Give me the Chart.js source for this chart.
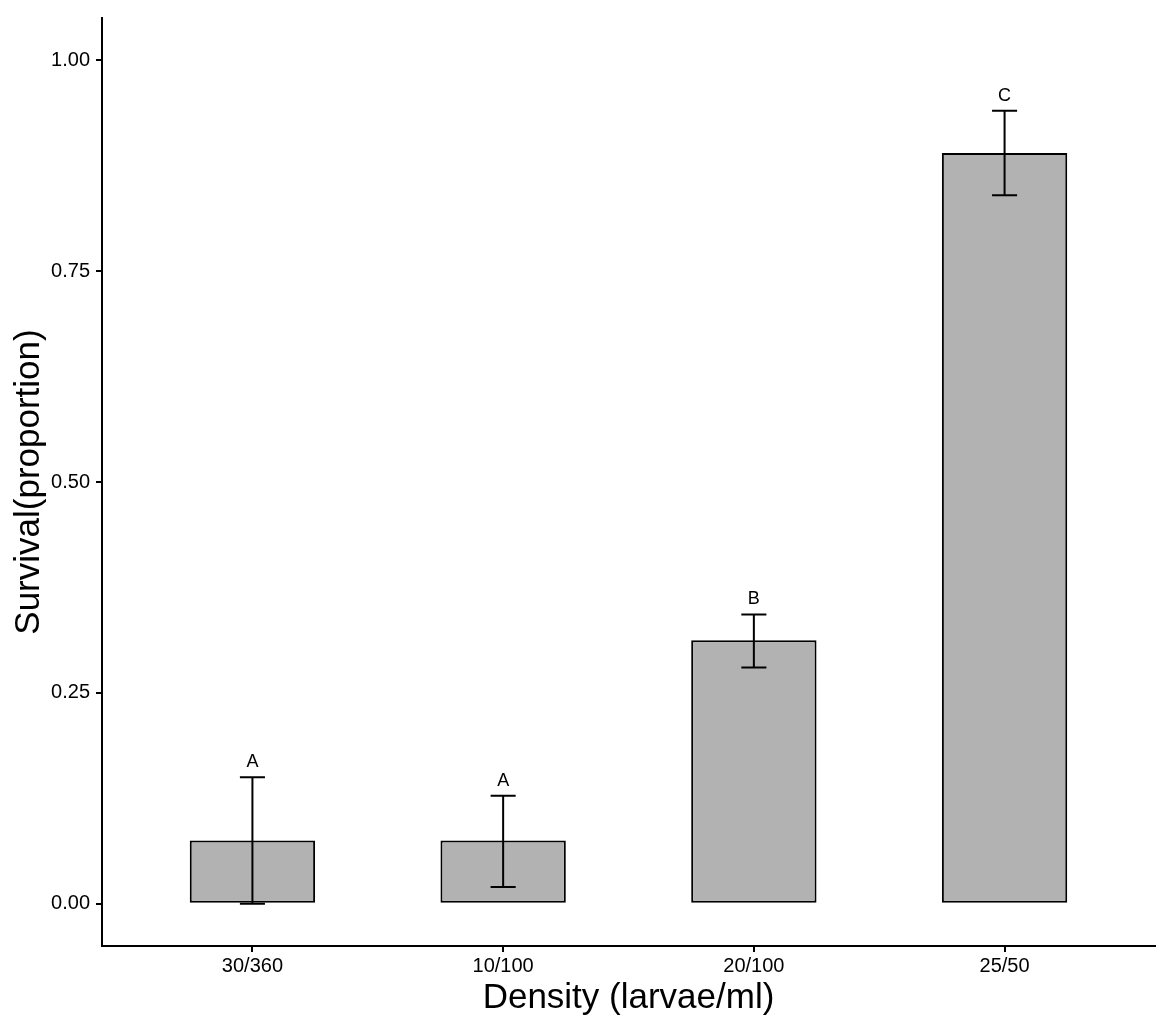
<!DOCTYPE html>
<html lang="en">
<head>
  <meta charset="UTF-8">
  <title>Survival by density</title>
  <script src="https://cdn.jsdelivr.net/npm/chart.js"></script>
  <style>
    html, body { margin: 0; padding: 0; background: #fff; }
    .chart-box { width: 1170px; height: 1023px; position: relative; }
  </style>
</head>
<body>
  <div class="chart-box">
    <canvas id="barChart"></canvas>
  </div>

  <script>
    // values
    const categories = ['30/360', '10/100', '20/100', '25/50'];
    const survival = [0.075, 0.075, 0.3125, 0.89];
    const errLow = [0.0, 0.02, 0.28, 0.84];
    const errHigh = [0.15, 0.128, 0.343, 0.94];
    const letters = ['A', 'A', 'B', 'C'];
    const yTicks = [0, 0.25, 0.5, 0.75, 1.0];

    const FONT = '"Liberation Sans", Arial, sans-serif';

    // error bars + significance letters, drawn through the chart scales
    const errorBarPlugin = {
      id: 'errorBars',
      afterDatasetsDraw(chart) {
        const { ctx, scales: { x, y } } = chart;
        const half = (x.getPixelForValue(0.05) - x.getPixelForValue(0));
        ctx.save();
        ctx.strokeStyle = '#000';
        ctx.lineWidth = 2;
        categories.forEach((c, i) => {
          const px = x.getPixelForValue(i + 1);
          const lo = y.getPixelForValue(errLow[i]);
          const hi = y.getPixelForValue(errHigh[i]);
          ctx.beginPath();
          ctx.moveTo(px, lo); ctx.lineTo(px, hi);
          ctx.moveTo(px - half, lo); ctx.lineTo(px + half, lo);
          ctx.moveTo(px - half, hi); ctx.lineTo(px + half, hi);
          ctx.stroke();

          ctx.fillStyle = '#000';
          ctx.font = '18px ' + FONT;
          ctx.textAlign = 'center';
          ctx.textBaseline = 'middle';
          ctx.fillText(letters[i], px, y.getPixelForValue(errHigh[i] + 0.018));
        });
        ctx.restore();
      }
    };

    const ctx = document.getElementById('barChart').getContext('2d');
    new Chart(ctx, {
      type: 'bar',
      data: {
        datasets: [{
          data: categories.map((c, i) => ({ x: i + 1, y: survival[i] })),
          backgroundColor: '#B2B2B2',
          borderColor: '#000',
          borderWidth: 2,
          borderSkipped: false,
          categoryPercentage: 1,
          barPercentage: 0.5
        }]
      },
      options: {
        responsive: true,
        maintainAspectRatio: false,
        animation: false,
        layout: { padding: { top: 15, right: 15, left: 0, bottom: 0 } },
        plugins: {
          legend: { display: false },
          tooltip: { enabled: false }
        },
        scales: {
          x: {
            type: 'linear',
            offset: false,
            min: 0.4,
            max: 4.6,
            afterBuildTicks: s => { s.ticks = categories.map((c, i) => ({ value: i + 1 })); },
            afterFit: s => { s.height = 77; },
            ticks: {
              color: '#000',
              font: { family: FONT, size: 20 },
              padding: 2,
              maxRotation: 0,
              callback: v => categories[v - 1]
            },
            grid: { display: true, offset: false, drawOnChartArea: false, drawTicks: true, tickLength: 6, color: '#000', lineWidth: 2 },
            border: { display: true, color: '#000', width: 2 },
            title: {
              display: true,
              text: 'Density (larvae/ml)',
              color: '#000',
              font: { family: FONT, size: 35 },
              padding: { top: 0, bottom: 4 }
            }
          },
          y: {
            min: -0.05,
            max: 1.05,
            afterBuildTicks: s => { s.ticks = yTicks.map(v => ({ value: v })); },
            afterFit: s => { s.width = 102; },
            ticks: {
              color: '#000',
              font: { family: FONT, size: 20 },
              padding: 6,
              callback: v => Number(v).toFixed(2)
            },
            grid: { display: true, drawOnChartArea: false, drawTicks: true, tickLength: 6, color: '#000', lineWidth: 2 },
            border: { display: true, color: '#000', width: 2 },
            title: {
              display: true,
              text: 'Survival(proportion)',
              color: '#000',
              font: { family: FONT, size: 35 },
              padding: { top: 8, bottom: 0 }
            }
          }
        }
      },
      plugins: [errorBarPlugin]
    });
  </script>
</body>
</html>
